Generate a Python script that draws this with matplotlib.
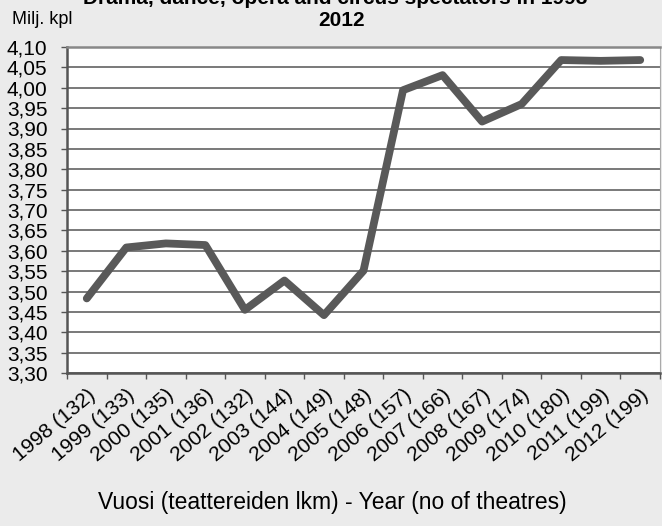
import matplotlib
matplotlib.use("Agg")
import matplotlib.pyplot as plt
import numpy as np

# =========================
# DATA
# =========================
years = ["1998", "1999", "2000", "2001", "2002", "2003", "2004", "2005",
         "2006", "2007", "2008", "2009", "2010", "2011", "2012"]
theatres = [132, 133, 135, 136, 132, 144, 149, 148, 157, 166, 167, 174, 180, 199, 199]
spectators = [3.483, 3.608, 3.618, 3.614, 3.455, 3.527, 3.442, 3.551,
              3.994, 4.031, 3.917, 3.960, 4.068, 4.066, 4.068]
yticks = [3.30, 3.35, 3.40, 3.45, 3.50, 3.55, 3.60, 3.65, 3.70,
          3.75, 3.80, 3.85, 3.90, 3.95, 4.00, 4.05, 4.10]

labels = [f"{y} ({t})" for y, t in zip(years, theatres)]

# =========================
# FIGURE
# =========================
plt.rcParams["font.family"] = ["Liberation Sans", "DejaVu Sans"]

fig = plt.figure(figsize=(6.62, 5.26), dpi=100, facecolor="#ebebeb")
ax = fig.add_axes([67 / 662, 1 - 373 / 526, 593 / 662, 326 / 526])
ax.set_facecolor("white")

x = np.arange(len(years)) + 0.5
ax.plot(x, spectators, color="#595959", lw=5.6, solid_capstyle="round",
        solid_joinstyle="round", zorder=3)

ax.set_xlim(0, len(years))
ax.set_ylim(3.30, 4.10)

# gridlines
ax.set_yticks(yticks)
ax.set_yticklabels([f"{v:.2f}".replace(".", ",") for v in yticks], fontsize=15)
ax.yaxis.grid(True, color="#555555", lw=1.1)
ax.set_axisbelow(True)

# x ticks between categories, labels at centers
ax.set_xticks(np.arange(len(years) + 1))
ax.set_xticklabels([])
ax.set_xticks(x, minor=True)
ax.set_xticklabels(labels, minor=True, rotation=40, ha="right", va="top",
                   rotation_mode="anchor", fontsize=15)
ax.tick_params(axis="x", which="minor", length=0, pad=9)
ax.tick_params(axis="x", which="major", length=4, color="#555555", width=1)
ax.tick_params(axis="y", length=4, color="#555555", width=1, pad=10)

for side in ["left", "bottom"]:
    ax.spines[side].set_color("#555555")
    ax.spines[side].set_linewidth(1.8)
ax.spines["top"].set_color("#888888")
ax.spines["top"].set_linewidth(1.8)
ax.spines["right"].set_color("#aaaaaa")

fig.text(342 / 662, 1 + 1 / 526, "Drama, dance, opera and circus spectators in 1998 -",
         ha="center", va="center", fontsize=15, fontweight="bold")
fig.text(342 / 662, 1 - 21 / 526, "2012", ha="center", va="center",
         fontsize=15, fontweight="bold")
fig.text(12 / 662, 1 - 20 / 526, "Milj. kpl", ha="left", va="center", fontsize=13)
fig.text(332 / 662, 1 - 502 / 526, "Vuosi (teattereiden lkm) - Year (no of theatres)",
         ha="center", va="center", fontsize=16.5)

fig.savefig("out.png", dpi=100, facecolor=fig.get_facecolor())
